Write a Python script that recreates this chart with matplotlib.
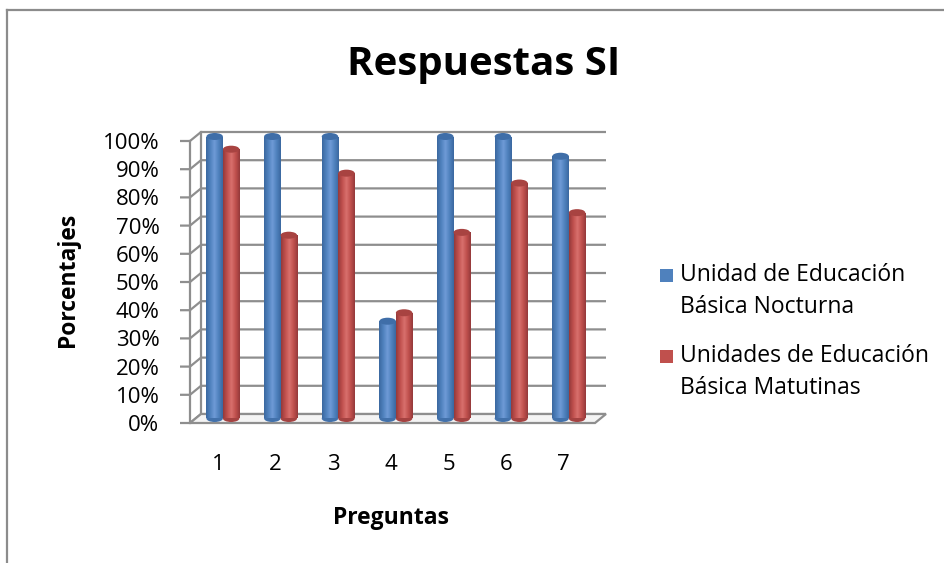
import matplotlib
matplotlib.use("Agg")
import matplotlib.pyplot as plt
import numpy as np
from matplotlib.colors import LinearSegmentedColormap
from matplotlib.patches import Ellipse, Rectangle, Polygon
from matplotlib.lines import Line2D

categories = ["1", "2", "3", "4", "5", "6", "7"]
nocturna = [1.00, 1.00, 1.00, 0.345, 1.00, 1.00, 0.93]
matutinas = [0.955, 0.65, 0.87, 0.375, 0.66, 0.835, 0.73]
series_names = ["Unidad de Educación\nBásica Nocturna",
                "Unidades de Educación\nBásica Matutinas"]
yticks = [0.0, 0.1, 0.2, 0.3, 0.4, 0.5, 0.6, 0.7, 0.8, 0.9, 1.0]
ytick_labels = ["0%", "10%", "20%", "30%", "40%", "50%", "60%", "70%", "80%", "90%", "100%"]

FONT = "Open Sans"
W, H = 945, 563
fig = plt.figure(figsize=(W / 100, H / 100), dpi=100)
fig.patch.set_facecolor("white")

# axes placement (front plane); y from 0 to 1.06
ax_l, ax_r, ax_b, y100 = 190, 595, 423, 141
ytop = 1.06
px_y = (ax_b - y100) / 1.0
ax_t = ax_b - px_y * ytop
ax = fig.add_axes([ax_l / W, (H - ax_b) / H, (ax_r - ax_l) / W, (ax_b - ax_t) / H])
xmin, xmax = 0.515, 7.54
ax.set_xlim(xmin, xmax)
ax.set_ylim(0, ytop)
ax.patch.set_visible(False)
for s in ax.spines.values():
    s.set_visible(False)

px_x = (ax_r - ax_l) / (xmax - xmin)   # px per x-unit
dx = 11 / px_x   # depth offset
dy = 9 / px_y
grid_c = "#8e8e8e"

# gridlines on back wall + left wall diagonals
for v in yticks:
    ax.plot([xmin - 10 / px_x, xmin, xmin + dx, xmax + dx], [v, v, v + dy, v + dy],
            color=grid_c, lw=1.6, clip_on=False, solid_capstyle="butt", zorder=1)
ax.plot([xmin, xmin], [0, 1], color=grid_c, lw=1.6, clip_on=False, zorder=1)
ax.plot([xmin + dx, xmin + dx], [dy, 1 + dy], color=grid_c, lw=1.6, clip_on=False, zorder=1)
floor = Polygon([[xmin, 0], [xmax, 0], [xmax + dx, dy], [xmin + dx, dy]], closed=True,
                facecolor="#f4f4f4", edgecolor=grid_c, lw=1.6, clip_on=False, zorder=1)
ax.add_patch(floor)

x = np.arange(1, len(categories) + 1)
bw = 0.286
off = dx * 0.45
base = dy * 0.5

def cyl_cmap(dark, mid, light):
    return LinearSegmentedColormap.from_list("c", [dark, mid, light, mid, dark], N=256)

cmaps = [cyl_cmap("#3a679f", "#4f81bd", "#6f9ad6"),
         cyl_cmap("#93393a", "#c0504d", "#d8706d")]
tops = ["#3f6ea8", "#a84341"]

for k, (vals, cm, tc) in enumerate(zip([nocturna, matutinas], cmaps, tops)):
    xs = x + (k - 0.5) * bw + off
    bars = ax.bar(xs, vals, width=bw, bottom=base, color="none", edgecolor="none", zorder=3)
    for b, xc, v in zip(bars, xs, vals):
        im = ax.imshow(np.linspace(0, 1, 256).reshape(1, -1), cmap=cm, aspect="auto",
                       extent=[xc - bw / 2, xc + bw / 2, base, base + v], zorder=3,
                       interpolation="bilinear")
        im.set_clip_path(b)
        ax.add_patch(Ellipse((xc, base), bw, 7 / px_y, facecolor=cm(0.1), edgecolor="none", zorder=2.9))
        ax.add_patch(Ellipse((xc, base + v), bw, 7 / px_y, facecolor=tc, edgecolor="none", zorder=4))

ax.set_xlim(xmin, xmax)
ax.set_ylim(0, ytop)
ax.set_xticks(x)
ax.set_xticklabels(categories)
ax.set_yticks(yticks)
ax.set_yticklabels(ytick_labels)
ax.tick_params(axis="x", length=0, pad=22, labelsize=16)
ax.tick_params(axis="y", length=0, pad=22, labelsize=16)
for t in ax.get_xticklabels() + ax.get_yticklabels():
    t.set_fontfamily(FONT)

fig.text(484 / W, 1 - 65 / H, "Respuestas SI", fontsize=29, fontweight="bold",
         family=FONT, ha="center", va="center")
fig.text(68 / W, 1 - 280 / H, "Porcentajes", fontsize=16.5, fontweight="bold",
         family=FONT, ha="center", va="center", rotation=90)
fig.text(391 / W, 1 - 518 / H, "Preguntas", fontsize=16.5, fontweight="bold",
         family=FONT, ha="center", va="center")

# legend
leg_colors = ["#4f81bd", "#c0504d"]
leg_y = [275, 356]
for name, c, yy in zip(series_names, leg_colors, leg_y):
    fig.patches.append(Rectangle((660 / W, 1 - (yy + 6.5) / H), 13 / W, 13 / H,
                                 transform=fig.transFigure, facecolor=c, edgecolor="none"))
    l1, l2 = name.split("\n")
    fig.text(680 / W, 1 - yy / H, l1, fontsize=16.5, family=FONT, ha="left", va="center")
    fig.text(680 / W, 1 - (yy + 32) / H, l2, fontsize=16.5, family=FONT, ha="left", va="center")

# chart frame
fig.add_artist(Line2D([7 / W, 7 / W], [0, 1 - 10 / H], transform=fig.transFigure,
                      color="#8c8c8c", lw=1.6))
fig.add_artist(Line2D([7 / W, 1], [1 - 10 / H, 1 - 10 / H], transform=fig.transFigure,
                      color="#8c8c8c", lw=1.6))

fig.savefig("out.png", dpi=100)
